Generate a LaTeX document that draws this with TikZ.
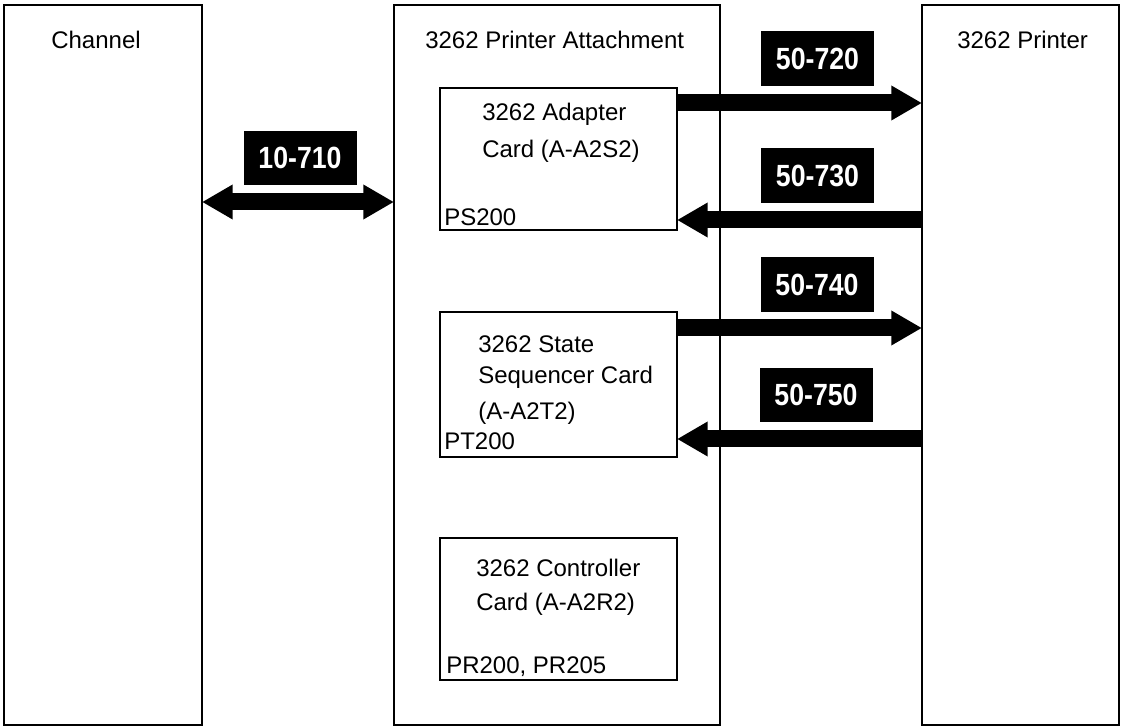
\documentclass[tikz,border=0pt]{standalone}
\usepackage{fontspec}
\setmainfont{Liberation Sans}
\newfontfamily\labfont[FakeStretch=0.87]{Liberation Sans Bold}
\usetikzlibrary{arrows.meta}
\begin{document}
\begin{tikzpicture}[x=0.75pt,y=-0.75pt,
  bigbox/.style={draw, line width=1.3pt, anchor=north west, inner sep=0pt, outer sep=0pt},
  card/.style={draw, line width=1.9pt, anchor=north west, inner sep=0pt, outer sep=0pt},
  txt/.style={anchor=base west, inner sep=0pt, font=\fontsize{18pt}{21pt}\selectfont},
  lab/.style={fill=black, text=white, inner sep=0pt, minimum width=84.75pt, minimum height=41pt,
    font=\labfont\fontsize{23pt}{26pt}\selectfont},
  onearrow/.style={line width=12.75pt, line cap=butt, -{Triangle[length=23pt,width=24.5pt]}},
  twoarrow/.style={line width=12.75pt, line cap=butt, {Triangle[length=23pt,width=24.5pt]}-{Triangle[length=23pt,width=24.5pt]}}
]
\useasboundingbox (0,0) rectangle (1122,727);
% big boxes
\node[bigbox, minimum width=148.5pt, minimum height=540pt] (chan) at (4,5) {};
\node[bigbox, minimum width=244.5pt, minimum height=540pt] (att) at (394,5) {};
\node[bigbox, minimum width=147.75pt, minimum height=540pt] (prt) at (922,5) {};
% cards
\node[card, minimum width=177.75pt, minimum height=106.5pt] (adp) at (440,88) {};
\node[card, minimum width=177.75pt, minimum height=108.75pt] (seq) at (440,312) {};
\node[card, minimum width=177.75pt, minimum height=106.5pt] (ctl) at (440,538) {};
% titles
\node[txt, anchor=base] (tchan) at (96,49) {Channel};
\node[txt] (tatt) at (425,49) {3262 Printer Attachment};
\node[txt] (tprt) at (957,49) {3262 Printer};
% card texts
\node[txt] (a1) at (482,121) {3262 Adapter};
\node[txt] (a2) at (482,158) {Card (A-A2S2)};
\node[txt] (a3) at (444,226) {PS200};
\node[txt] (s1) at (478,353) {3262 State};
\node[txt] (s2) at (478,384) {Sequencer Card};
\node[txt] (s3) at (478,420) {(A-A2T2)};
\node[txt] (s4) at (444,450) {PT200};
\node[txt] (c1) at (476,576) {3262 Controller};
\node[txt] (c2) at (476,610) {Card (A-A2R2)};
\node[txt] (c3) at (446,673) {PR200, PR205};
% labels
\node[lab] (l710) at (300,158) {10-710};
\node[lab] (l720) at (817.5,58.5) {50-720};
\node[lab] (l730) at (817.5,175.5) {50-730};
\node[lab] (l740) at (817,284.5) {50-740};
\node[lab] (l750) at (816,395) {50-750};
% arrows
\draw[twoarrow] (chan.east |- 0,202) -- (att.west |- 0,202);
\draw[onearrow] (adp.east |- 0,103) -- (prt.west |- 0,103);
\draw[onearrow] (prt.west |- 0,220) -- (adp.east |- 0,220);
\draw[onearrow] (seq.east |- 0,328) -- (prt.west |- 0,328);
\draw[onearrow] (prt.west |- 0,439) -- (seq.east |- 0,439);
\end{tikzpicture}
\end{document}
